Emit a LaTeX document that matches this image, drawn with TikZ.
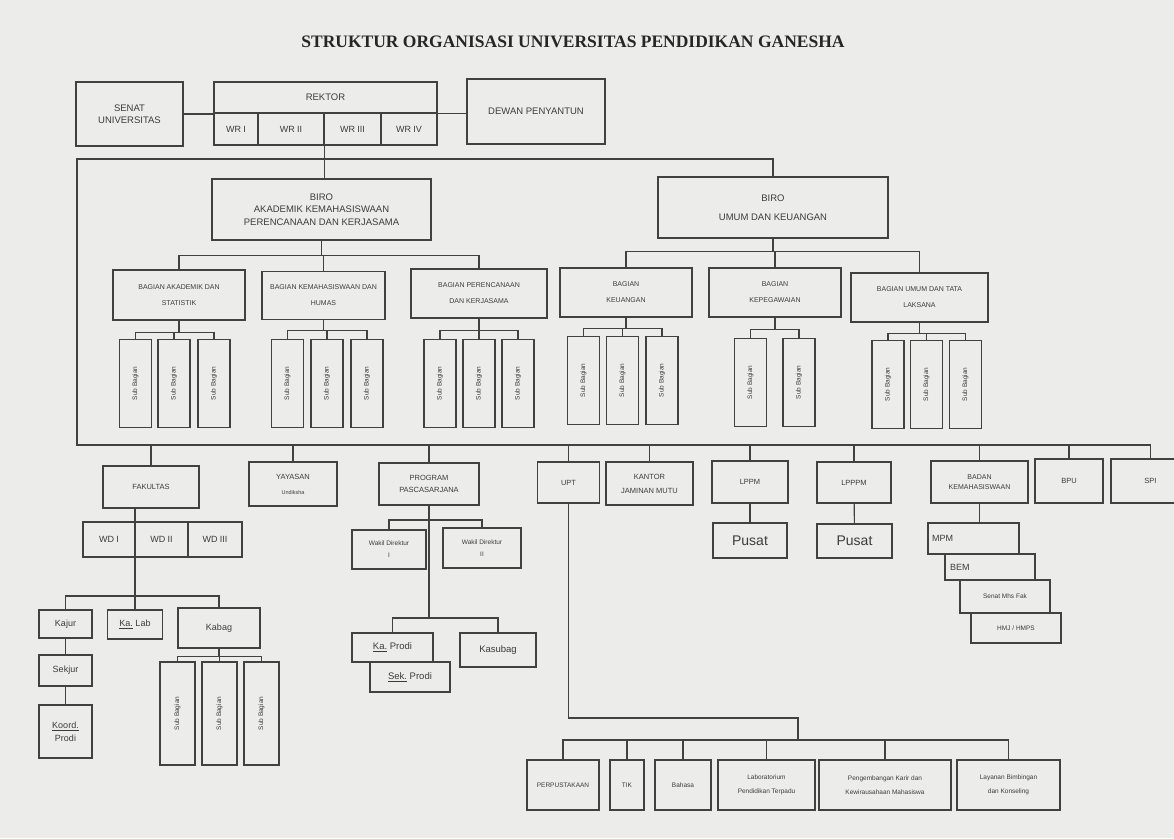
\documentclass[tikz,border=0pt]{standalone}
\usepackage{fontspec}
\setmainfont{Liberation Sans}
\newfontfamily\titlefont{Liberation Serif}

\definecolor{bgc}{RGB}{236,236,234}
\definecolor{linec}{RGB}{65,65,65}
\definecolor{textc}{RGB}{60,60,60}

\tikzset{
  box/.style={draw=linec, line width=1.1pt, text=textc, align=center, inner sep=1pt},
  sz/.style 2 args={minimum width=#1pt, minimum height=#2pt},
  sub/.style={box, minimum width=32pt, minimum height=88pt, font=\fontsize{6.5}{7}\selectfont},
  link/.style={draw=linec, line width=1.1pt},
  t14/.style={font=\fontsize{14}{16}\selectfont},
  t10/.style={font=\fontsize{9.5}{12.5}\selectfont},
  t9/.style={font=\fontsize{9}{13}\selectfont},
  t8/.style={font=\fontsize{7.5}{13}\selectfont},
  t7/.style={font=\fontsize{7}{16}\selectfont},
  t6/.style={font=\fontsize{6.5}{13}\selectfont},
}

\begin{document}
\begin{tikzpicture}[x=1pt, y=-1pt]
      \fill[bgc] (0,0) rectangle (1174,838);
      \useasboundingbox (0,0) rectangle (1174,838);

      \node[text=black!85, font=\titlefont\bfseries\fontsize{17.5}{20}\selectfont] (title) at (573,42)
            {STRUKTUR ORGANISASI UNIVERSITAS PENDIDIKAN GANESHA};

      % pimpinan
      \node[box, t10, sz={107}{64}] (senat) at (129.5,114) {SENAT\\UNIVERSITAS};
      \node[box, t10, sz={223}{31}] (rektor) at (325.5,97.5) {REKTOR};
      \node[box, t9, sz={44}{32}] (wr1) at (236,129) {WR I};
      \node[box, t9, sz={66}{32}] (wr2) at (291,129) {WR II};
      \node[box, t9, sz={57}{32}] (wr3) at (352.5,129) {WR III};
      \node[box, t9, sz={56}{32}] (wr4) at (409,129) {WR IV};
      \node[box, t10, sz={138}{65}] (dewan) at (536,111.5) {DEWAN PENYANTUN};

      % biro
      \node[box, t10, sz={219}{61}] (biroA) at (321.5,209.5) {BIRO\\AKADEMIK KEMAHASISWAAN\\PERENCANAAN DAN KERJASAMA};
      \node[box, t10, font=\fontsize{9.5}{19}\selectfont, sz={230}{61}] (biroU) at (773,207.5) {BIRO\\UMUM DAN KEUANGAN};

      \node[box, t7, sz={132}{50}] (bagAk) at (179,295) {BAGIAN AKADEMIK DAN\\STATISTIK};
      \node[box, t7, sz={123}{48}] (bagKm) at (323.5,295.5) {BAGIAN KEMAHASISWAAN DAN\\HUMAS};
      \node[box, t7, sz={136}{49}] (bagPr) at (479,293.5) {BAGIAN PERENCANAAN\\DAN KERJASAMA};
      \node[box, t7, sz={132}{49}] (bagKu) at (626,292.5) {BAGIAN\\KEUANGAN};
      \node[box, t7, sz={132}{49}] (bagKp) at (775,292.5) {BAGIAN\\KEPEGAWAIAN};
      \node[box, t7, sz={137}{49}] (bagTl) at (919.5,297.5) {BAGIAN UMUM DAN TATA\\LAKSANA};

      \node[sub] (sa1) at (135.5,383.5) {\rotatebox{90}{Sub Bagian}};
      \node[sub] (sa2) at (174,383.5) {\rotatebox{90}{Sub Bagian}};
      \node[sub] (sa3) at (214,383.5) {\rotatebox{90}{Sub Bagian}};
      \node[sub] (sk1) at (287.5,383.5) {\rotatebox{90}{Sub Bagian}};
      \node[sub] (sk2) at (327,383.5) {\rotatebox{90}{Sub Bagian}};
      \node[sub] (sk3) at (367,383.5) {\rotatebox{90}{Sub Bagian}};
      \node[sub] (sp1) at (440,383.5) {\rotatebox{90}{Sub Bagian}};
      \node[sub] (sp2) at (479,383.5) {\rotatebox{90}{Sub Bagian}};
      \node[sub] (sp3) at (518,383.5) {\rotatebox{90}{Sub Bagian}};
      \node[sub] (su1) at (583.5,380.5) {\rotatebox{90}{Sub Bagian}};
      \node[sub] (su2) at (622.5,380.5) {\rotatebox{90}{Sub Bagian}};
      \node[sub] (su3) at (662,380.5) {\rotatebox{90}{Sub Bagian}};
      \node[sub] (sg1) at (750.5,382.5) {\rotatebox{90}{Sub Bagian}};
      \node[sub] (sg2) at (799,382.5) {\rotatebox{90}{Sub Bagian}};
      \node[sub] (st1) at (888,384.5) {\rotatebox{90}{Sub Bagian}};
      \node[sub] (st2) at (926.5,384.5) {\rotatebox{90}{Sub Bagian}};
      \node[sub] (st3) at (965.5,384.5) {\rotatebox{90}{Sub Bagian}};

      % unit di bawah garis
      \node[box, t8, sz={96}{42}] (fak) at (151,487) {FAKULTAS};
      \node[box, t8, font=\fontsize{7.5}{15}\selectfont, sz={88}{44}] (yay) at (293,484) {YAYASAN\\{\fontsize{5.5}{6}\selectfont Undiksha}};
      \node[box, t8, font=\fontsize{7.5}{12}\selectfont, sz={100}{42}] (pps) at (429,484) {PROGRAM\\PASCASARJANA};
      \node[box, t8, sz={62}{41}] (upt) at (568.5,482.5) {UPT};
      \node[box, t8, font=\fontsize{7.5}{14}\selectfont, sz={87}{43}] (kjm) at (649.5,483.5) {KANTOR\\JAMINAN MUTU};
      \node[box, t8, sz={76}{42}] (lppm) at (750,482) {LPPM};
      \node[box, t8, sz={74}{41}] (lpppm) at (854,482.5) {LPPPM};
      \node[box, t7, font=\fontsize{7}{10.5}\selectfont, sz={97}{42}] (bkm) at (979.5,482) {BADAN\\KEMAHASISWAAN};
      \node[box, t8, sz={68}{44}] (bpu) at (1069,481) {BPU};
      \node[box, t8, sz={79}{44}] (spi) at (1150.5,481) {SPI};

      % fakultas
      \node[box, t9, sz={52}{35}] (wd1) at (109,539.5) {WD I};
      \node[box, t9, sz={53}{35}] (wd2) at (161.5,539.5) {WD II};
      \node[box, t9, sz={54}{35}] (wd3) at (215,539.5) {WD III};
      \node[box, t9, sz={53}{28}] (kajur) at (65.5,624) {Kajur};
      \node[box, t9, sz={55}{29}] (kalab) at (135,624.5) {\underline{Ka.} Lab};
      \node[box, t9, sz={82}{40}] (kabag) at (219,628) {Kabag};
      \node[box, t9, sz={53}{31}] (sekjur) at (65.5,670.5) {Sekjur};
      \node[box, t9, sz={53}{53}] (koord) at (65.5,731.5) {\underline{Koord.}\\Prodi};
      \node[sub, sz={35}{103}] (sb1) at (177.5,713.5) {\rotatebox{90}{Sub Bagian}};
      \node[sub, sz={35}{103}] (sb2) at (219.5,713.5) {\rotatebox{90}{Sub Bagian}};
      \node[sub, sz={35}{103}] (sb3) at (261.5,713.5) {\rotatebox{90}{Sub Bagian}};

      % pascasarjana
      \node[box, t6, font=\fontsize{6.5}{12}\selectfont, sz={74}{39}] (wdir1) at (389,549.5) {Wakil Direktur\\I};
      \node[box, t6, font=\fontsize{6.5}{12}\selectfont, sz={78}{40}] (wdir2) at (482,548) {Wakil Direktur\\II};
      \node[box, t10, sz={81}{29}] (kaprodi) at (392.5,647.5) {\underline{Ka.} Prodi};
      \node[box, t10, sz={80}{30}] (sekprodi) at (410,677) {\underline{Sek.} Prodi};
      \node[box, t10, sz={76}{34}] (kasubag) at (498,650) {Kasubag};

      % lppm, lpppm, kemahasiswaan
      \node[box, t14, sz={74}{35}] (pusat1) at (750,540.5) {Pusat};
      \node[box, t14, sz={75}{34}] (pusat2) at (854.5,541) {Pusat};
      \node[box, t9, sz={91}{31}, text width=83pt, align=left] (mpm) at (973.5,538.5) {MPM};
      \node[box, t9, sz={90}{26}, text width=80pt, align=left] (bem) at (990,567) {BEM};
      \node[box, t6, sz={90}{33}] (smf) at (1005,596.5) {Senat Mhs Fak};
      \node[box, t6, sz={90}{30}] (hmj) at (1016,628) {HMJ / HMPS};

      % upt
      \node[box, t6, sz={72}{50}] (perp) at (563,785) {PERPUSTAKAAN};
      \node[box, t6, sz={34}{50}] (tik) at (627,785) {TIK};
      \node[box, t6, sz={56}{50}] (bahasa) at (683,785) {Bahasa};
      \node[box, t6, font=\fontsize{6.5}{14}\selectfont, sz={97}{50}] (lab) at (766.5,785) {Laboratorium\\Pendidikan Terpadu};
      \node[box, t6, font=\fontsize{6.5}{14}\selectfont, sz={132}{50}] (karir) at (885,785) {Pengembangan Karir dan\\Kewirausahaan Mahasiswa};
      \node[box, t6, font=\fontsize{6.5}{14}\selectfont, sz={103}{50}] (layanan) at (1008.5,785) {Layanan Bimbingan\\dan Konseling};

      \coordinate (ftl) at (77,159);
      \coordinate (fbl) at (77,445);
      \coordinate (fb) at (135,596);
      \coordinate (wb) at (429,520);
      \coordinate (pb) at (429,618);
      \coordinate (uptbend) at (798,718);
      \coordinate (uptbus) at (798,740);

      % garis pimpinan
      \draw[link] (senat.east) -- (senat.east -| rektor.west);
      \draw[link] (rektor.south east) -- (rektor.south east -| dewan.west);
      \draw[link] (wr2.south east) -- (wr2.south east |- biroA.north);
      \draw[link] (biroU.north) |- (ftl) -- (fbl) -| (spi.north);

      % biro ke bagian
      \draw[link] (biroA.south) -- ++(0,15) -| (bagAk.north);
      \draw[link] (biroA.south) -- ++(0,15) -| (bagKm.north);
      \draw[link] (biroA.south) -- ++(0,15) -| (bagPr.north);
      \draw[link] (biroU.south) -- ++(0,13) -| (bagKu.north);
      \draw[link] (biroU.south) -- ++(0,13) -| (bagKp.north);
      \draw[link] (biroU.south) -- ++(0,13) -| (bagTl.north);

      % bagian ke sub bagian
      \draw[link] (bagAk.south) -- ++(0,12) -| (sa1.north);
      \draw[link] (bagAk.south) -- ++(0,12) -| (sa2.north);
      \draw[link] (bagAk.south) -- ++(0,12) -| (sa3.north);
      \draw[link] (bagKm.south) -- ++(0,10) -| (sk1.north);
      \draw[link] (bagKm.south) -- ++(0,10) -| (sk2.north);
      \draw[link] (bagKm.south) -- ++(0,10) -| (sk3.north);
      \draw[link] (bagPr.south) -- ++(0,12) -| (sp1.north);
      \draw[link] (bagPr.south) -- ++(0,12) -| (sp2.north);
      \draw[link] (bagPr.south) -- ++(0,12) -| (sp3.north);
      \draw[link] (bagKu.south) -- ++(0,11) -| (su1.north);
      \draw[link] (bagKu.south) -- ++(0,11) -| (su2.north);
      \draw[link] (bagKu.south) -- ++(0,11) -| (su3.north);
      \draw[link] (bagKp.south) -- ++(0,12) -| (sg1.north);
      \draw[link] (bagKp.south) -- ++(0,12) -| (sg2.north);
      \draw[link] (bagTl.south) -- ++(0,11) -| (st1.north);
      \draw[link] (bagTl.south) -- ++(0,11) -| (st2.north);
      \draw[link] (bagTl.south) -- ++(0,11) -| (st3.north);

      % garis bawah ke unit
      \draw[link] (fak.north) -- (fak.north |- fbl);
      \draw[link] (yay.north) -- (yay.north |- fbl);
      \draw[link] (pps.north) -- (pps.north |- fbl);
      \draw[link] (upt.north) -- (upt.north |- fbl);
      \draw[link] (kjm.north) -- (kjm.north |- fbl);
      \draw[link] (lppm.north) -- (lppm.north |- fbl);
      \draw[link] (lpppm.north) -- (lpppm.north |- fbl);
      \draw[link] (bkm.north) -- (bkm.north |- fbl);
      \draw[link] (bpu.north) -- (bpu.north |- fbl);

      % fakultas
      \draw[link] (fak.south -| fb) -- (fb);
      \draw[link] (kajur.north) |- (fb) -| (kabag.north);
      \draw[link] (fb) -- (kalab.north);
      \draw[link] (kajur) -- (sekjur);
      \draw[link] (sekjur) -- (koord);
      \draw[link] (kabag.south) -- ++(0,8) -| (sb1.north);
      \draw[link] (kabag.south) -- ++(0,8) -| (sb2.north);
      \draw[link] (kabag.south) -- ++(0,8) -| (sb3.north);

      % pascasarjana
      \draw[link] (pps.south) -- (pb);
      \draw[link] (wdir1.north) |- (wb) -| (wdir2.north);
      \draw[link] (kaprodi.north) |- (pb) -| (kasubag.north);

      \draw[link] (lppm) -- (pusat1);
      \draw[link] (lpppm) -- (pusat2);
      \draw[link] (bkm.south) -- (bkm.south |- mpm.north);

      % upt
      \draw[link] (upt.south) |- (uptbend) -- (uptbus);
      \draw[link] (perp.north) |- (uptbus) -| (layanan.north);
      \draw[link] (tik.north) -- (tik.north |- uptbus);
      \draw[link] (bahasa.north) -- (bahasa.north |- uptbus);
      \draw[link] (lab.north) -- (lab.north |- uptbus);
      \draw[link] (karir.north) -- (karir.north |- uptbus);

   \end{tikzpicture}
\end{document}
